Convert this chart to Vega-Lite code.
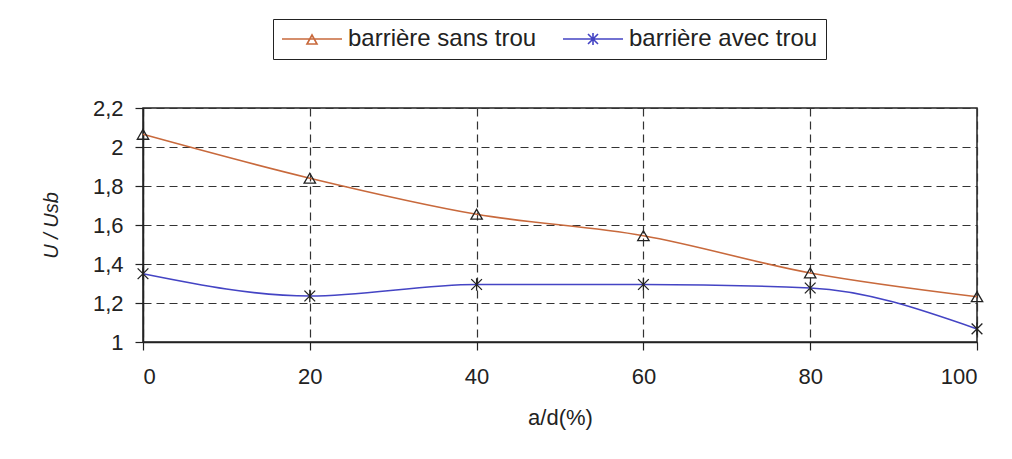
{
  "$schema": "https://vega.github.io/schema/vega-lite/v6.json",
  "width": 834,
  "height": 234,
  "autosize": "none",
  "padding": {"left": 143, "top": 108, "right": 35, "bottom": 117},
  "background": "white",
  "config": {
    "font": "Liberation Sans",
    "view": {"stroke": "#222222", "strokeWidth": 1.5}
  },
  "data": {
    "values": [
      {"ad": 0, "u": 2.065, "serie": "barrière sans trou"},
      {"ad": 20, "u": 1.84, "serie": "barrière sans trou"},
      {"ad": 40, "u": 1.655, "serie": "barrière sans trou"},
      {"ad": 60, "u": 1.545, "serie": "barrière sans trou"},
      {"ad": 80, "u": 1.354, "serie": "barrière sans trou"},
      {"ad": 100, "u": 1.232, "serie": "barrière sans trou"},
      {"ad": 0, "u": 1.35, "serie": "barrière avec trou"},
      {"ad": 20, "u": 1.236, "serie": "barrière avec trou"},
      {"ad": 40, "u": 1.295, "serie": "barrière avec trou"},
      {"ad": 60, "u": 1.295, "serie": "barrière avec trou"},
      {"ad": 80, "u": 1.277, "serie": "barrière avec trou"},
      {"ad": 100, "u": 1.067, "serie": "barrière avec trou"}
    ]
  },
  "encoding": {
    "x": {
      "field": "ad",
      "type": "quantitative",
      "scale": {"domain": [0, 100], "nice": false},
      "axis": {
        "values": [0, 20, 40, 60, 80, 100],
        "title": "a/d(%)",
        "grid": true,
        "gridColor": "#333333",
        "gridDash": [8, 5],
        "gridWidth": 1.2,
        "domainColor": "#222222",
        "domainWidth": 1.5,
        "tickColor": "#222222",
        "tickWidth": 1.2,
        "tickSize": 8,
        "labelFontSize": 22,
        "labelColor": "#222222",
        "labelPadding": 16,
        "titleFontSize": 22,
        "titleFontWeight": "normal",
        "titleColor": "#222222",
        "titlePadding": 20
      }
    },
    "y": {
      "field": "u",
      "type": "quantitative",
      "scale": {"domain": [1, 2.2], "nice": false, "zero": false},
      "axis": {
        "values": [1, 1.2, 1.4, 1.6, 1.8, 2, 2.2],
        "labelExpr": "replace(format(datum.value, '.1~f'), '.', ',')",
        "title": "U / Usb",
        "grid": true,
        "gridColor": "#333333",
        "gridDash": [8, 5],
        "gridWidth": 1.2,
        "domainColor": "#222222",
        "domainWidth": 1.5,
        "tickColor": "#222222",
        "tickWidth": 1.2,
        "tickSize": 8,
        "labelFontSize": 22,
        "labelColor": "#222222",
        "labelPadding": 12,
        "titleFontSize": 20,
        "titleFontWeight": "normal",
        "titleFontStyle": "italic",
        "titleColor": "#222222",
        "titlePadding": 31
      }
    }
  },
  "layer": [
    {
      "mark": {"type": "line", "interpolate": "monotone", "strokeWidth": 1.6},
      "encoding": {
        "color": {
          "field": "serie",
          "type": "nominal",
          "scale": {
            "domain": ["barrière sans trou", "barrière avec trou"],
            "range": ["#C8693C", "#4444C4"]
          },
          "legend": {
            "title": null,
            "orient": "none",
            "direction": "horizontal",
            "legendX": 130,
            "legendY": -89,
            "strokeColor": "#222222",
            "fillColor": "white",
            "padding": 8,
            "symbolSize": 400,
            "symbolStrokeWidth": 1.6,
            "symbolOffset": 19,
            "labelOffset": 24,
            "labelFontSize": 24,
            "labelLimit": 400,
            "labelColor": "#222222",
            "columnPadding": 22,
            "encode": {
              "symbols": {
                "update": {
                  "shape": {
                    "signal": "datum.value === 'barrière sans trou' ? 'M-3,0L3,0M-0.5,0.5L0,-0.4L0.5,0.5Z' : 'M-3,0L3,0M-0.5,-0.5L0.5,0.5M-0.5,0.5L0.5,-0.5M0,-0.6L0,0.6'"
                  }
                }
              }
            }
          }
        }
      }
    },
    {
      "transform": [{"filter": "datum.serie === 'barrière sans trou'"}],
      "mark": {"type": "point", "shape": "triangle-up", "filled": false, "size": 130, "strokeWidth": 1.3, "color": "#222222", "opacity": 1}
    },
    {
      "transform": [{"filter": "datum.serie === 'barrière avec trou'"}],
      "mark": {"type": "point", "shape": "M-1.1,-1.1L1.1,1.1M-1.1,1.1L1.1,-1.1M0,-1.3L0,1.3", "filled": false, "size": 95, "strokeWidth": 1.3, "color": "#222222", "opacity": 1}
    }
  ]
}
